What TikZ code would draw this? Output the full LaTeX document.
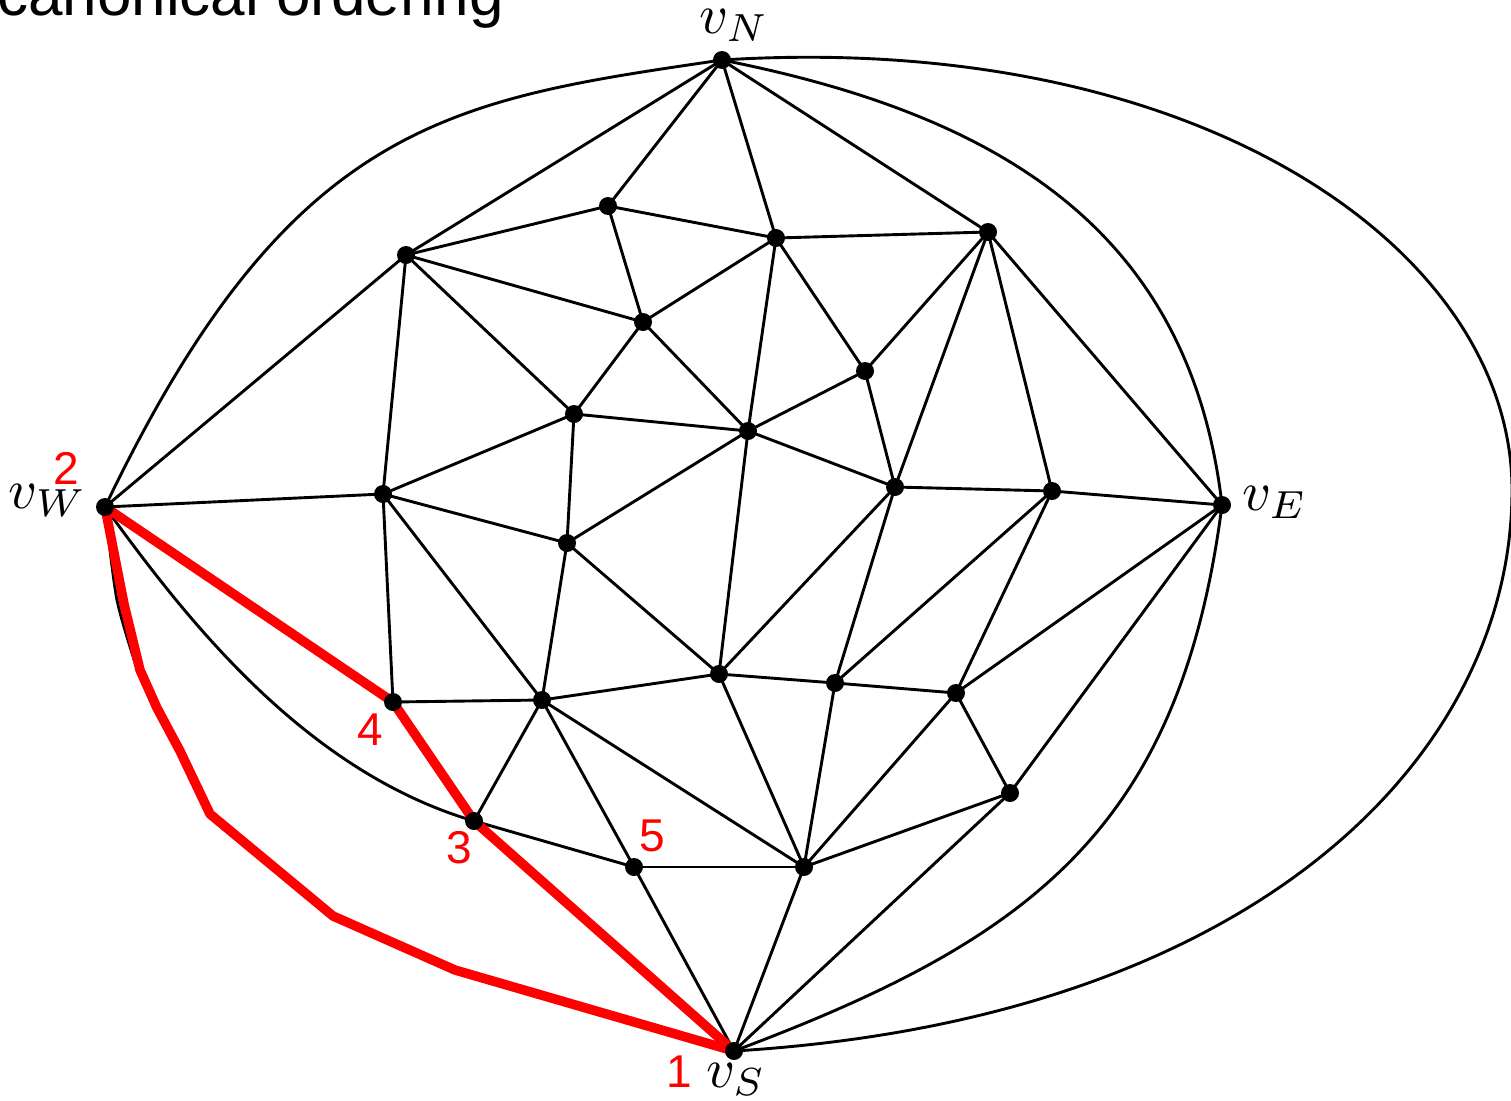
\documentclass[tikz,border=0pt]{standalone}
\usepackage{fontspec}
\newfontfamily\labelsans{Liberation Sans}
\pgfdeclarelayer{back}
\pgfdeclarelayer{bg}
\pgfsetlayers{back,bg,main}
\newcommand{\biglab}[1]{\scalebox{5.6}{$#1$}}
\begin{document}
\begin{tikzpicture}[x=1pt,y=-1pt,
  dot/.style={circle,fill=black,inner sep=0pt,minimum size=18pt},
  edge/.style={line width=2.9pt,black},
  redge/.style={line width=9.5pt,red,line join=round},
  num/.style={font=\labelsans\fontsize{46}{50}\selectfont,text=red,inner sep=0pt},
  vlab/.style={inner sep=0pt}]
\useasboundingbox (0,0) rectangle (1511,1100);
\begin{pgfonlayer}{back}
\fill[white] (0,0) rectangle (1511,1100);
\end{pgfonlayer}

% nodes
\node[dot] (vN) at (722,60) {};
\node[dot] (vW) at (105,507) {};
\node[dot] (vE) at (1222,505) {};
\node[dot] (vS) at (734,1051) {};
\node[dot] (a) at (608,206) {};
\node[dot] (b) at (776,238) {};
\node[dot] (c) at (988,232) {};
\node[dot] (d) at (406,255) {};
\node[dot] (e) at (643,322) {};
\node[dot] (f) at (865,371) {};
\node[dot] (g) at (574,414) {};
\node[dot] (h) at (748,431) {};
\node[dot] (i) at (895,487) {};
\node[dot] (j) at (1052,491) {};
\node[dot] (k) at (383,494) {};
\node[dot] (l) at (567,543) {};
\node[dot] (m) at (719,674) {};
\node[dot] (n) at (835,683) {};
\node[dot] (o) at (956,693) {};
\node[dot] (p) at (393,702) {};
\node[dot] (q) at (542,700) {};
\node[dot] (r) at (1010,793) {};
\node[dot] (s) at (474,821) {};
\node[dot] (t) at (634,867) {};
\node[dot] (u) at (804,867) {};
\coordinate (east) at (1512,490);

\begin{pgfonlayer}{bg}
\foreach \x/\y in {vN/d,vN/a,vN/b,vN/c,vW/d,vW/k,
  d/a,d/e,d/g,d/k,a/b,a/e,b/e,b/c,b/f,b/h,c/f,c/i,c/j,c/vE,
  e/g,e/h,f/h,f/i,g/k,g/l,g/h,k/l,k/p,k/q,l/h,l/m,l/q,h/m,
  i/h,i/j,i/m,i/n,j/vE,j/n,j/o,vE/o,vE/r,
  m/q,m/n,m/u,n/o,n/u,o/r,o/u,p/q,q/s,q/t,q/u,r/u,r/vS,
  s/t,t/u,t/vS,u/vS}
  \draw[edge] (\x.center) -- (\y.center);
\draw[edge] (vN.center) .. controls (450,100) and (290,120) .. (vW.center);
\draw[edge] (vN.center) .. controls (1000,115) and (1190,230) .. (vE.center);
\draw[edge] (vN.center) .. controls (1200,30) and (1512,250) .. (east)
  .. controls (1512,760) and (1250,1020) .. (vS.center);
\draw[edge] (vE.center) .. controls (1180,830) and (1030,940) .. (vS.center);
\draw[edge] (vW.center) .. controls (180,610) and (300,770) .. (s.center);
\draw[edge] plot[smooth,tension=0.4] coordinates {(vW.center) (117,600) (139,674)
  (157,710) (180,752) (211,814) (333,915) (455,969) (vS.center)};
\draw[redge] (vW.center) -- (p.center) -- (s.center) -- (vS.center);
\draw[redge] (vW.center) -- (124,604) -- (140,670) -- (157,708) -- (180,751)
  -- (210,814) -- (333,916) -- (455,970) -- (vS.center);
\end{pgfonlayer}

% labels
\node[vlab,anchor=base west] (lN) at (699,33) {\biglab{v_N}};
\node[vlab,anchor=base east] (lW) at (87,508) {\biglab{v_W}};
\node[vlab,anchor=base west] (lE) at (1242,510) {\biglab{v_E}};
\node[vlab,anchor=base west] (lS) at (706,1087) {\biglab{v_S}};
\node[num] (n2) at (66,468) {2};
\node[num] (n4) at (370,730) {4};
\node[num] (n3) at (459,848) {3};
\node[num] (n5) at (652,836) {5};
\node[num] (n1) at (679,1072) {1};
\node[anchor=base east,inner sep=0pt,font=\labelsans\fontsize{62}{70}\selectfont] (title) at (504,15) {canonical ordering};
\end{tikzpicture}
\end{document}
